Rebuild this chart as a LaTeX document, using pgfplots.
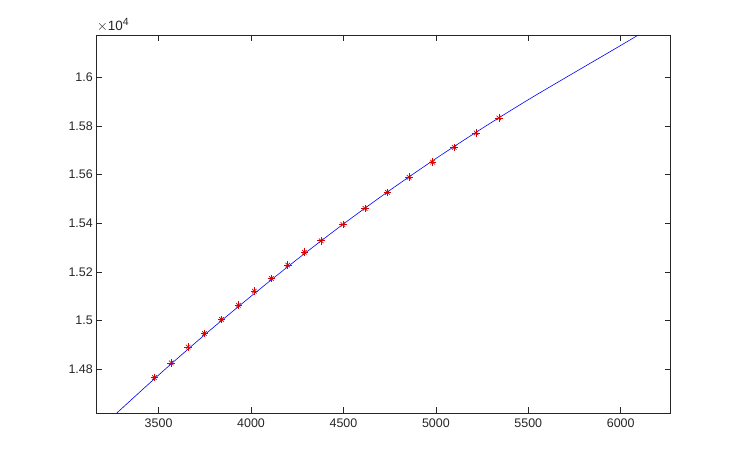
\documentclass[border=0pt]{standalone}
\usepackage{pgfplots}
\pgfplotsset{compat=1.18}
\usepackage{fontspec}
\setmainfont{Liberation Sans}
\definecolor{axgray}{rgb}{0.15,0.15,0.15}
\begin{document}
\begin{tikzpicture}
\path[use as bounding box] (-96.3bp,-51bp) rectangle (644.7bp,413bp);
\begin{axis}[
 at={(0,0)}, anchor=south west,
 width=574.3bp, height=378bp, scale only axis,
 xmin=3163, xmax=6270, ymin=14620, ymax=16174,
 xtick={3500,4000,4500,5000,5500,6000},
 ytick={14800,15000,15200,15400,15600,15800,16000},
 yticklabels={1.48,1.5,1.52,1.54,1.56,1.58,1.6},
 scaled ticks=false,
 /pgf/number format/assume math mode=true,
 /pgf/number format/1000 sep={},
 tick align=inside, major tick length=5.7bp,
 axis line style={axgray, line width=0.5bp},
 tick style={axgray, line width=0.5bp},
 ticklabel style={font=\fontsize{12.5}{14}\selectfont, text=axgray},
 xticklabel style={yshift=-2bp},
 clip=true,
]
\addplot[only marks, mark=+, color=red!85!black, mark size=3.8bp, mark options={line width=0.7bp}] coordinates {
(3477,14766) (3568,14826) (3660,14891) (3748,14947) (3840,15005) (3932,15063)
(4018,15121) (4110,15173) (4199,15228) (4289,15281) (4379,15328) (4497,15395)
(4617,15461) (4738,15527) (4855,15589) (4982,15651) (5099,15712) (5218,15771) (5341,15833)
};
\addplot[only marks, mark=x, color=red!85!black, mark size=3.2bp, mark options={line width=0.7bp}] coordinates {
(3477,14766) (3568,14826) (3660,14891) (3748,14947) (3840,15005) (3932,15063)
(4018,15121) (4110,15173) (4199,15228) (4289,15281) (4379,15328) (4497,15395)
(4617,15461) (4738,15527) (4855,15589) (4982,15651) (5099,15712) (5218,15771) (5341,15833)
};
\addplot[blue, line width=0.6bp, smooth] coordinates {
(3274,14620) (3500,14776) (3750,14942) (4000,15100) (4250,15252) (4500,15397)
(4750,15535) (5000,15666) (5250,15790) (5500,15908) (5750,16020) (6000,16131) (6095,16174)
};
\end{axis}
\node[anchor=base west, inner sep=0pt, font=\fontsize{13.5}{15}\selectfont, text=axgray] at (0.3bp,382bp) {$\times$10\raisebox{5.5bp}{\fontsize{10.5}{11}\selectfont 4}};
\end{tikzpicture}
\end{document}
